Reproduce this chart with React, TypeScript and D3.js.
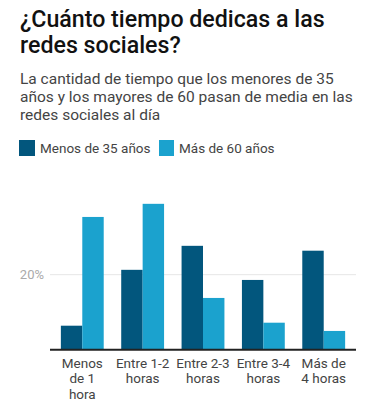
import React from "react";
import * as d3 from "d3";

const categories = ["Menos de 1 hora", "Entre 1-2 horas", "Entre 2-3 horas", "Entre 3-4 horas", "Más de 4 horas"];
const categoryLines = [["Menos", "de 1", "hora"], ["Entre 1-2", "horas"], ["Entre 2-3", "horas"], ["Entre 3-4", "horas"], ["Más de", "4 horas"]];
const seriesNames = ["Menos de 35 años", "Más de 60 años"];
const under35 = [6.4, 21.3, 27.7, 18.6, 26.4];
const over60 = [35.4, 38.9, 13.8, 7.2, 5.0];
const yTicks = [20];
const colors = ["#02567d", "#1ba2ce"];

const W = 375;
const H = 409;
const plotLeft = 50;
const plotRight = 356;
const baseY = 349.7;
const pxPerPct = 3.75;

export default function App() {
  const x = d3.scaleBand<string>().domain(categories).range([plotLeft, plotRight]).paddingInner(0.29).paddingOuter(0.18);
  const x1 = d3.scaleBand<string>().domain(seriesNames).range([0, x.bandwidth()]);
  const y = d3.scaleLinear().domain([0, 40]).range([baseY, baseY - 40 * pxPerPct]);
  const series = [under35, over60];
  const font = "Roboto, sans-serif";
  return (
    <svg width={W} height={H} style={{ position: "absolute", left: 0, top: 0, background: "#fff" }} fontFamily={font}>
      <text fontSize={23.2} fontWeight={500} fill="#111">
        <tspan x={20} y={27}>¿Cuánto tiempo dedicas a las</tspan>
        <tspan x={20} y={53}>redes sociales?</tspan>
      </text>
      <text fontSize={15.5} fill="#444">
        <tspan x={20} y={84}>La cantidad de tiempo que los menores de 35</tspan>
        <tspan x={20} y={102}>años y los mayores de 60 pasan de media en las</tspan>
        <tspan x={20} y={120}>redes sociales al día</tspan>
      </text>
      {/* legend */}
      <rect x={19} y={140} width={16} height={16} fill={colors[0]} />
      <text x={40} y={152.5} fontSize={13.5} fill="#444">{seriesNames[0]}</text>
      <rect x={159} y={140} width={15} height={16} fill={colors[1]} />
      <text x={179} y={152.5} fontSize={13.5} fill="#444">{seriesNames[1]}</text>
      {/* grid */}
      {yTicks.map((t) => (
        <g key={t}>
          <line x1={plotLeft} x2={plotRight} y1={y(t)} y2={y(t)} stroke="#e6e6e6" strokeWidth={1} />
          <text x={44} y={y(t) + 4.5} textAnchor="end" fontSize={13} fill="#aaa">{t}%</text>
        </g>
      ))}
      {/* bars */}
      {categories.map((c, i) => (
        <g key={c} transform={`translate(${x(c)},0)`}>
          {series.map((s, j) => (
            <rect key={j} x={x1(seriesNames[j])} y={y(s[i])} width={x1.bandwidth()} height={baseY - y(s[i])} fill={colors[j]} />
          ))}
        </g>
      ))}
      <line x1={plotLeft} x2={plotRight} y1={baseY} y2={baseY} stroke="#222" strokeWidth={2} />
      {categories.map((c, i) => (
        <text key={c} textAnchor="middle" fontSize={13.5} fill="#444">
          {categoryLines[i].map((l, k) => (
            <tspan key={k} x={(x(c) as number) + x.bandwidth() / 2} y={367.7 + k * 15.7}>{l}</tspan>
          ))}
        </text>
      ))}
    </svg>
  );
}
